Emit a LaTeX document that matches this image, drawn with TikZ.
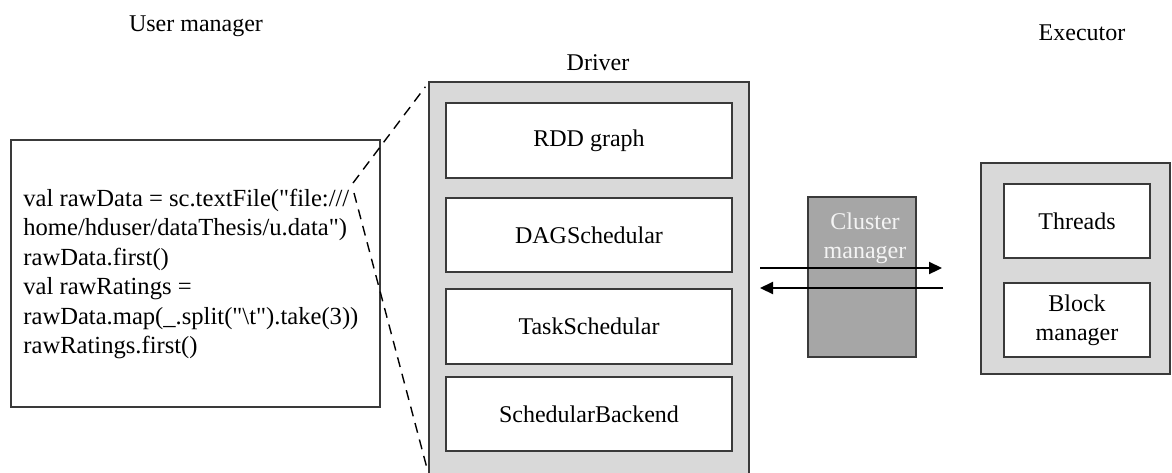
\documentclass[tikz,border=0pt]{standalone}
\usepackage{fontspec}
\setmainfont{Liberation Serif}[Ligatures=TeXOff]
\usetikzlibrary{arrows.meta}
\definecolor{panel}{HTML}{D9D9D9}
\definecolor{edge}{HTML}{3A3A3A}
\definecolor{cmfill}{HTML}{A6A6A6}
\definecolor{cmtext}{HTML}{F4F4F4}
\newcommand{\dq}{\symbol{34}}
\tikzset{
  box/.style={draw=edge, line width=0.75pt, inner sep=0pt, outer sep=0pt,
    align=center, font=\fontsize{12}{14.5}\selectfont},
  panelbox/.style={box, fill=panel},
  itembox/.style={box, fill=white},
  heading/.style={font=\fontsize{12}{14}\selectfont, inner sep=0pt},
  zoomline/.style={dashed, dash pattern=on 5pt off 3.5pt, line width=0.7pt},
  msg/.style={line width=1.1pt, -{Triangle[length=6.5pt,width=6pt]}}
}
\begin{document}
\begin{tikzpicture}[x=0.5pt, y=-0.5pt]
\useasboundingbox (0,0) rectangle (1172,472);

% column headings
\node[heading] (huser) at (196,26) {User manager};
\node[heading] (hdriver) at (598,63) {Driver};
\node[heading] (hexec) at (1082,33) {Executor};

% user program
\node[itembox, minimum width=184.5pt, minimum height=133.5pt] (code) at (195.5,273.5) {};
\node[anchor=west, inner sep=0pt, align=left, font=\fontsize{12.3}{14.75}\selectfont] (codetext) at (23,274)
  {val rawData = sc.textFile(\dq file:///\\
   home/hduser/dataThesis/u.data\dq)\\
   rawData.first()\\
   val rawRatings =\\
   rawData.map(\_.split(\dq\textbackslash t\dq).take(3))\\
   rawRatings.first()};

% driver with its components
\node[panelbox, minimum width=160pt, minimum height=197pt] (driver) at (589,279) {};
\node[itembox, minimum width=143pt, minimum height=37.5pt] (rdd) at (589,140.5) {RDD graph};
\node[itembox, minimum width=143pt, minimum height=37pt] (dag) at (589,235) {DAGSchedular};
\node[itembox, minimum width=143pt, minimum height=37.5pt] (task) at (589,326.5) {TaskSchedular};
\node[itembox, minimum width=143pt, minimum height=37pt] (backend) at (589,414) {SchedularBackend};

% cluster manager
\node[box, fill=cmfill, minimum width=54pt, minimum height=80pt] (cluster) at (862,277) {};
\node[inner sep=0pt, align=center, text=cmtext, font=\fontsize{12}{14.5}\selectfont, anchor=north] (clustertext) at (865,212) {Cluster\\manager};

% executor with its components
\node[panelbox, minimum width=94.5pt, minimum height=105.5pt] (exec) at (1075.5,268.5) {};
\node[itembox, minimum width=73pt, minimum height=37pt] (threads) at (1077,221) {Threads};
\node[itembox, minimum width=73pt, minimum height=37pt] (block) at (1077,320) {Block\\manager};

% zoom lines from the program into the driver
\coordinate (zoomtop) at (353,183);
\coordinate (zoombot) at (354,193);
\draw[zoomline, shorten >=3pt] (zoomtop) -- (driver.north west);
\draw[zoomline] (zoombot) -- (428,472);

% messages between driver and executor
\coordinate (sendfrom) at (760,268);
\coordinate (sendto) at (942,268);
\coordinate (backfrom) at (943,288);
\coordinate (backto) at (760,288);
\draw[msg] (sendfrom) -- (sendto);
\draw[msg] (backfrom) -- (backto);
\end{tikzpicture}
\end{document}
